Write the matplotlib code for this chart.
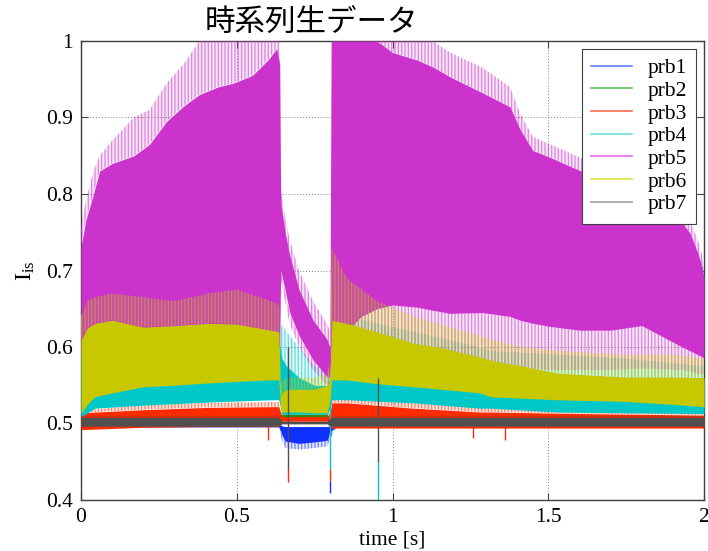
"""
Raw probe time series (Isat) for seven probes, 0-2 s
"""
import matplotlib
matplotlib.use("Agg")
import matplotlib.pyplot as plt
from matplotlib.lines import Line2D
from matplotlib.colors import to_rgba
from matplotlib.ticker import FuncFormatter

# ---- envelope data per probe: time nodes, lower / upper body, spike tops ----
t1 = [0.0, 0.635, 0.645, 0.655, 0.70, 0.75, 0.79, 0.80, 0.82, 2.0]
lo1 = [0.4955, 0.4955, 0.485, 0.477, 0.474, 0.476, 0.478, 0.490, 0.4955, 0.4955]
hi1 = [0.499, 0.499, 0.497, 0.496, 0.496, 0.496, 0.496, 0.497, 0.499, 0.499]
sp1 = [0.499, 0.499, 0.497, 0.496, 0.496, 0.496, 0.496, 0.497, 0.499, 0.499]
dip1 = [0.4955, 0.4955, 0.478, 0.468, 0.466, 0.468, 0.470, 0.480, 0.4955, 0.4955]

t2 = [0.0, 0.635, 0.645, 0.79, 0.80, 2.0]
lo2 = [0.500, 0.500, 0.505, 0.505, 0.500, 0.500]
hi2 = [0.505, 0.505, 0.512, 0.512, 0.505, 0.505]
sp2 = [0.505, 0.505, 0.513, 0.513, 0.505, 0.505]

t3 = [0.0, 0.2, 0.4, 0.6, 0.635, 0.645, 0.79, 0.80, 0.805, 0.853, 1.067,
      1.28, 1.313, 1.6, 2.0]
lo3 = [0.492, 0.495, 0.496, 0.496, 0.496, 0.503, 0.503, 0.497, 0.494,
       0.494, 0.494, 0.494, 0.494, 0.494, 0.494]
hi3 = [0.514, 0.518, 0.521, 0.522, 0.522, 0.509, 0.509, 0.515, 0.527,
       0.527, 0.520, 0.515, 0.515, 0.513, 0.511]
sp3 = [0.517, 0.524, 0.527, 0.528, 0.528, 0.511, 0.511, 0.520, 0.534,
       0.534, 0.527, 0.521, 0.520, 0.517, 0.515]

t4 = [0.0, 0.045, 0.2, 0.41, 0.61, 0.635, 0.645, 0.66, 0.70, 0.75, 0.79,
      0.80, 0.805, 0.853, 1.067, 1.28, 1.313, 1.528, 1.74, 2.0]
lo4 = [0.509, 0.520, 0.524, 0.528, 0.531, 0.531, 0.512, 0.512, 0.512, 0.512,
       0.512, 0.520, 0.531, 0.531, 0.527, 0.520, 0.520, 0.515, 0.514, 0.513]
hi4 = [0.600, 0.610, 0.615, 0.620, 0.615, 0.610, 0.585, 0.575, 0.560, 0.550,
       0.550, 0.560, 0.620, 0.620, 0.600, 0.580, 0.575, 0.565, 0.560, 0.555]
sp4 = [0.600, 0.610, 0.615, 0.620, 0.615, 0.610, 0.630, 0.620, 0.600, 0.575,
       0.570, 0.580, 0.640, 0.640, 0.620, 0.600, 0.595, 0.590, 0.585, 0.575]

t5 = [0.0, 0.015, 0.04, 0.06, 0.10, 0.17, 0.22, 0.275, 0.33, 0.38, 0.44,
      0.49, 0.55, 0.60, 0.628, 0.638, 0.641, 0.655, 0.67, 0.70, 0.745, 0.79,
      0.799, 0.803, 0.85, 0.90, 0.95, 1.00, 1.08, 1.13, 1.185, 1.29, 1.377,
      1.41, 1.45, 1.505, 1.60, 1.70, 1.80, 1.93, 1.955, 1.98, 1.994, 2.0]
lo5 = [0.590, 0.600, 0.600, 0.600, 0.600, 0.600, 0.600, 0.600, 0.600, 0.600,
       0.600, 0.600, 0.600, 0.600, 0.600, 0.600, 0.700, 0.675, 0.645, 0.615,
       0.583, 0.561, 0.560, 0.600, 0.620, 0.640, 0.650, 0.655, 0.652, 0.648,
       0.644, 0.645, 0.640, 0.635, 0.631, 0.627, 0.622, 0.622, 0.628, 0.600,
       0.595, 0.590, 0.587, 0.585]
hi5 = [0.730, 0.765, 0.800, 0.830, 0.840, 0.850, 0.865, 0.895, 0.915, 0.930,
       0.940, 0.945, 0.955, 0.975, 0.990, 0.970, 0.790, 0.750, 0.720, 0.675,
       0.635, 0.610, 0.600, 1.000, 1.000, 1.000, 1.000, 0.985, 0.975, 0.966,
       0.953, 0.932, 0.914, 0.884, 0.857, 0.848, 0.831, 0.810, 0.790, 0.762,
       0.749, 0.723, 0.705, 0.690]
sp5 = [0.757, 0.790, 0.830, 0.850, 0.870, 0.900, 0.910, 0.945, 0.970, 1.000,
       1.000, 1.000, 1.000, 1.000, 1.000, 1.000, 0.810, 0.770, 0.740, 0.700,
       0.660, 0.630, 0.620, 1.000, 1.000, 1.000, 1.000, 1.000, 1.000, 1.000,
       0.985, 0.965, 0.940, 0.905, 0.875, 0.865, 0.848, 0.830, 0.810, 0.780,
       0.765, 0.740, 0.720, 0.700]
# pale spikes hanging below the prb5 body into the white gap
dip5 = [0.590, 0.600, 0.600, 0.600, 0.600, 0.600, 0.600, 0.600, 0.600, 0.600,
        0.600, 0.600, 0.600, 0.600, 0.600, 0.600, 0.690, 0.660, 0.630, 0.600,
        0.570, 0.550, 0.550, 0.600, 0.610, 0.610, 0.600, 0.595, 0.590, 0.585,
        0.580, 0.578, 0.575, 0.575, 0.572, 0.570, 0.570, 0.570, 0.572, 0.570,
        0.568, 0.565, 0.565, 0.565]

t6 = [0.0, 0.02, 0.045, 0.10, 0.20, 0.30, 0.41, 0.50, 0.61, 0.635, 0.641,
      0.645, 0.66, 0.70, 0.75, 0.79, 0.799, 0.805, 0.853, 0.95, 1.067, 1.15,
      1.28, 1.313, 1.42, 1.528, 1.74, 1.90, 2.0]
lo6 = [0.514, 0.525, 0.535, 0.540, 0.548, 0.550, 0.553, 0.555, 0.557, 0.557,
       0.520, 0.515, 0.515, 0.515, 0.514, 0.514, 0.530, 0.557, 0.557, 0.552,
       0.548, 0.545, 0.540, 0.535, 0.533, 0.531, 0.529, 0.525, 0.522]
hi6 = [0.609, 0.625, 0.631, 0.635, 0.626, 0.628, 0.631, 0.630, 0.622, 0.620,
       0.535, 0.540, 0.545, 0.545, 0.545, 0.550, 0.556, 0.635, 0.631, 0.620,
       0.605, 0.600, 0.587, 0.583, 0.575, 0.566, 0.561, 0.561, 0.560]
sp6 = [0.640, 0.660, 0.665, 0.670, 0.665, 0.660, 0.670, 0.675, 0.660, 0.655,
       0.545, 0.555, 0.560, 0.560, 0.560, 0.565, 0.580, 0.730, 0.690, 0.660,
       0.640, 0.630, 0.615, 0.610, 0.600, 0.595, 0.590, 0.590, 0.585]

t7 = [0.0, 0.635, 0.645, 0.79, 0.80, 0.805, 2.0]
lo7 = [0.4965, 0.4965, 0.4995, 0.4995, 0.4965, 0.4965, 0.4965]
hi7 = [0.508, 0.508, 0.503, 0.503, 0.507, 0.508, 0.508]
sp7 = [0.510, 0.510, 0.503, 0.503, 0.509, 0.510, 0.510]

# isolated single-sample drop-outs: time, bottom, top, probe
drop_t = [0.600, 0.663, 0.663, 0.800, 0.800, 0.800, 0.954, 0.954, 1.26, 1.36]
drop_lo = [0.478, 0.424, 0.440, 0.409, 0.425, 0.440, 0.400, 0.450, 0.481, 0.478]
drop_hi = [0.500, 0.442, 0.600, 0.425, 0.440, 0.560, 0.450, 0.560, 0.500, 0.500]
drop_probe = ["prb3", "prb3", "prb7", "prb1", "prb3", "prb4", "prb4", "prb7",
              "prb3", "prb3"]

probes = ["prb1", "prb2", "prb3", "prb4", "prb5", "prb6", "prb7"]
colors = {
    "prb1": "#1030ff",
    "prb2": "#00a000",
    "prb3": "#ff2a00",
    "prb4": "#00c8c8",
    "prb5": "#cc33cc",
    "prb6": "#c8c800",
    "prb7": "#505050",
}
legend_colors = {
    "prb1": "#6080ff",
    "prb2": "#60c060",
    "prb3": "#ff6a50",
    "prb4": "#70e0e0",
    "prb5": "#e868e8",
    "prb6": "#e0e040",
    "prb7": "#a0a0a0",
}

series = {
    "prb1": (t1, lo1, hi1, sp1),
    "prb2": (t2, lo2, hi2, sp2),
    "prb3": (t3, lo3, hi3, sp3),
    "prb4": (t4, lo4, hi4, sp4),
    "prb5": (t5, lo5, hi5, sp5),
    "prb6": (t6, lo6, hi6, sp6),
    "prb7": (t7, lo7, hi7, sp7),
}
dips = {"prb1": (t1, dip1), "prb5": (t5, dip5)}

plt.rcParams["font.family"] = ["Liberation Serif", "DejaVu Serif"]
plt.rcParams["hatch.linewidth"] = 0.9

fig = plt.figure(figsize=(7.08, 5.51), dpi=100)
ax = fig.add_axes([81 / 708, 1 - 500 / 551, 623 / 708, 459 / 551])


def fringe(x, y0, y1, c, zorder):
    # sparse spikes around a trace: faint tint plus vertical hatch strokes
    ax.fill_between(x, y0, y1, facecolor=to_rgba(c, 0.12),
                    edgecolor=to_rgba(c, 0.55), hatch="|||||", lw=0,
                    zorder=zorder)


z = 2
for name in probes:
    t, lo, hi, sp = series[name]
    c = colors[name]
    fringe(t, hi, sp, c, z)
    if name in dips:
        td, dp = dips[name]
        fringe(td, dp, lo, c, z)
    ax.fill_between(t, lo, hi, color=c, lw=0, zorder=z + 0.5)
    z += 1

for tt, a, b, p in zip(drop_t, drop_lo, drop_hi, drop_probe):
    ax.vlines(tt, a, b, color=colors[p], lw=1.0, zorder=2 + probes.index(p) + 0.6)

ax.set_xlim(0, 2)
ax.set_ylim(0.4, 1.0)
ax.set_xticks([0, 0.5, 1, 1.5, 2])
ax.set_yticks([0.4, 0.5, 0.6, 0.7, 0.8, 0.9, 1.0])
fmt = FuncFormatter(lambda v, pos: f"{v:g}")
ax.xaxis.set_major_formatter(fmt)
ax.yaxis.set_major_formatter(fmt)
ax.tick_params(direction="in", length=5, width=0.8, color="#404040",
               labelsize=15.5, top=True, right=True, pad=6)
ax.set_axisbelow(True)
ax.grid(True, linestyle=(0, (1, 2)), color="#808080", lw=0.7, zorder=0)
for s in ax.spines.values():
    s.set_color("#404040")
    s.set_linewidth(1.0)

ax.set_xlabel("time [s]", fontsize=15.5, labelpad=2)
ax.set_ylabel(r"$\mathregular{I_{is}}$", fontsize=17, labelpad=6)

fig.text(311 / 708, 1 - 22 / 551, "時系列生データ", ha="center", va="center",
         fontsize=22, family=["Noto Sans CJK JP", "DejaVu Sans"])

handles = [Line2D([], [], color=legend_colors[p], lw=1.2) for p in probes]
leg = ax.legend(handles, probes, loc="upper right", fontsize=15.5,
                fancybox=False, framealpha=1, edgecolor="#404040",
                handlelength=1.9, handletextpad=0.7, borderaxespad=0.35,
                borderpad=0.45, labelspacing=0.12)
leg.get_frame().set_linewidth(0.8)
leg.set_zorder(20)

fig.savefig("out.png", dpi=100)
